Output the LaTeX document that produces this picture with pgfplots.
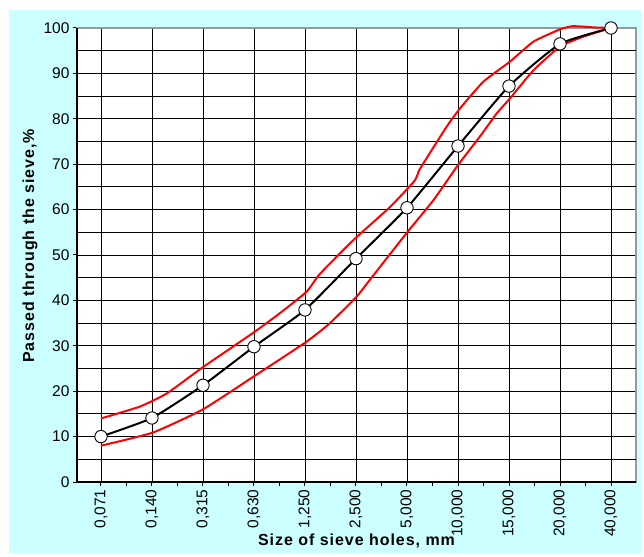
\documentclass[border=0pt]{standalone}
\usepackage{pgfplots}
\pgfplotsset{compat=1.18}
\usepackage{fontspec}
\setmainfont{Liberation Sans}
\definecolor{bgcyan}{HTML}{CCFFFF}
\begin{document}
\begin{tikzpicture}
\fill[white] (-77pt,-74pt) rectangle (567pt,482pt);
\fill[bgcyan] (-68pt,-71pt) rectangle (564pt,472pt);
\begin{axis}[
  at={(0,0)}, anchor=south west,
  scale only axis, width=559pt, height=454pt,
  xmin=-0.47, xmax=10.49, ymin=0, ymax=100,
  axis background/.style={fill=white},
  axis line style={draw=gray!80, line width=1.2pt},
  xtick={0,...,10},
  xticklabels={{0,071},{0,140},{0,315},{0,630},{1,250},{2,500},{5,000},{10,000},{15,000},{20,000},{40,000}},
  x tick label style={rotate=90, anchor=east, font=\fontsize{15.5}{17}\selectfont},
  ytick={0,10,...,100},
  y tick label style={font=\fontsize{15.5}{17}\selectfont},
  /pgf/number format/assume math mode=true,
  tick align=outside, xtick pos=bottom, ytick pos=left,
  major tick length=4pt,
  tick style={black, line width=1pt},
  xmajorgrids, ymajorgrids,
  grid style={black, line width=0.8pt},
  extra y ticks={5,15,...,95},
  extra y tick labels={},
  extra y tick style={major tick length=0pt, grid=major},
  extra x ticks={0.5,1.5,...,9.5},
  extra x tick labels={},
  extra x tick style={grid=none, major tick length=4pt},
  xlabel={Size of sieve holes, mm},
  ylabel={Passed through the sieve,\%},
  label style={font=\fontsize{16}{18}\selectfont\bfseries\addfontfeature{LetterSpace=6}},
  xlabel style={at={(axis description cs:0.5,-0.13)}, anchor=center},
  ylabel style={at={(axis description cs:-0.084,0.52)}, anchor=center},
  clip=false,
]
\addplot[red, line width=2pt, smooth, tension=0.3] coordinates {
(0,14) (0.76,16.6) (1.29,19.5) (2.0,25.3) (2.99,32.9) (3.51,37.2) (4.03,41.9)
(4.29,45.8) (4.95,53.3) (5.67,60.6) (6.16,66.5) (6.25,68.9) (6.78,78.3) (7.04,82.3)
(7.5,88.2) (8.02,92.6) (8.48,97.0) (9.0,99.7) (9.25,100.4) (9.72,100.1) (10,100)};
\addplot[red, line width=2pt, smooth, tension=0.3] coordinates {
(0,8.0) (1.02,10.9) (2.0,16.0) (2.99,23.2) (4.03,30.9) (4.49,35.0) (5.01,40.8)
(5.27,44.5) (5.99,54.8) (6.52,62.1) (7.0,69.8) (7.43,76.1) (7.76,81.2) (8.02,84.5)
(8.48,90.7) (9.0,95.9) (9.46,98.1) (10,100)};
\addplot[black, line width=2pt, smooth, tension=0.3, mark=*, mark size=6.2pt,
  mark options={fill=white, draw=black, line width=0.9pt}] coordinates {
(0,10) (1,14.1) (2,21.3) (3,29.8) (4,37.9) (5,49.2) (6,60.4) (7,74.0) (8,87.2) (9,96.5) (10,100)};
\draw[black, line width=1.8pt] (rel axis cs:0,1) -- (rel axis cs:0,0) -- (rel axis cs:1,0);
\end{axis}
\end{tikzpicture}
\end{document}
